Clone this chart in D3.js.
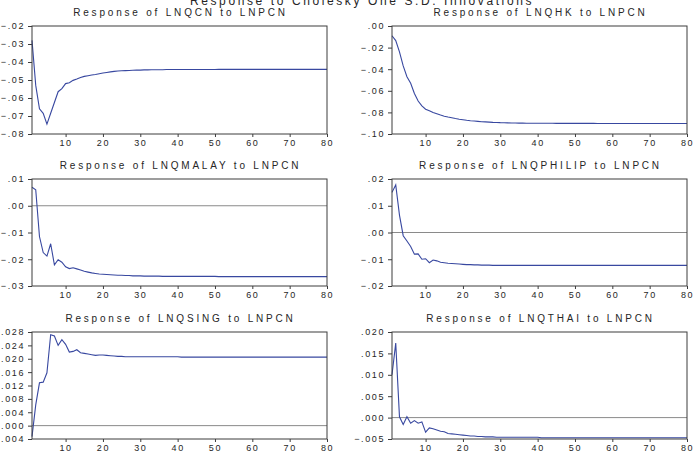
<!DOCTYPE html>
<html>
<head>
<meta charset="utf-8">
<script src="https://cdn.jsdelivr.net/npm/d3@7"></script>
<style>
  body { margin: 0; background: #fff; }
  svg { display: block; font-family: "Liberation Sans", Arial, sans-serif; }
</style>
</head>
<body>
<svg id="chart" width="696" height="461"></svg>
<script>
// impulse responses to one S.D. LNPCN shock, periods 1..80
let periods = d3.range(1, 81);
let xTicks = [10, 20, 30, 40, 50, 60, 70, 80];

let respCN = [
  -.0280, -.0530, -.0660, -.0685, -.0745, -.0685, -.0625, -.0565, -.0548, -.0520,
  -.0515, -.0502, -.0495, -.0486, -.0480, -.0476, -.0472, -.0469, -.0465, -.0461,
  -.0458, -.0455, -.0452, -.0450, -.0449, -.0448, -.0447, -.0446, -.0445, -.0445,
  -.0444, -.0444, -.0443, -.0443, -.0443, -.0443, -.0442, -.0442, -.0442, -.0442,
  -.0442, -.0442, -.0442, -.0442, -.0442, -.0442, -.0442, -.0442, -.0442, -.0442,
  -.0441, -.0441, -.0441, -.0441, -.0441, -.0441, -.0441, -.0441, -.0441, -.0441,
  -.0441, -.0441, -.0441, -.0441, -.0441, -.0441, -.0441, -.0441, -.0441, -.0441,
  -.0441, -.0441, -.0441, -.0441, -.0441, -.0441, -.0441, -.0441, -.0441, -.0441
];
let respHK = [
  -.0090, -.0135, -.0240, -.0370, -.0470, -.0530, -.0625, -.0695, -.0740, -.0770,
  -.0785, -.0800, -.0812, -.0825, -.0835, -.0843, -.0850, -.0857, -.0863, -.0868,
  -.0873, -.0877, -.0880, -.0883, -.0886, -.0888, -.0890, -.0892, -.0893, -.0895,
  -.0896, -.0897, -.0898, -.0898, -.0899, -.0899, -.0900, -.0900, -.0900, -.0901,
  -.0901, -.0901, -.0901, -.0901, -.0902, -.0902, -.0902, -.0902, -.0902, -.0902,
  -.0902, -.0902, -.0902, -.0902, -.0902, -.0903, -.0903, -.0903, -.0903, -.0903,
  -.0903, -.0903, -.0903, -.0903, -.0903, -.0903, -.0903, -.0903, -.0903, -.0903,
  -.0903, -.0903, -.0903, -.0903, -.0903, -.0903, -.0903, -.0903, -.0903, -.0903
];
let respMALAY = [
  .0069, .0060, -.0115, -.0175, -.0188, -.0142, -.0221, -.0202, -.0211, -.0228,
  -.0235, -.0232, -.0236, -.0240, -.0245, -.0248, -.0251, -.0253, -.0255, -.0256,
  -.0257, -.0258, -.0259, -.0260, -.0260, -.0261, -.0261, -.0262, -.0262, -.0262,
  -.0263, -.0263, -.0263, -.0263, -.0263, -.0264, -.0264, -.0264, -.0264, -.0264,
  -.0264, -.0264, -.0264, -.0264, -.0264, -.0264, -.0264, -.0264, -.0264, -.0264,
  -.0265, -.0265, -.0265, -.0265, -.0265, -.0265, -.0265, -.0265, -.0265, -.0265,
  -.0265, -.0265, -.0265, -.0265, -.0265, -.0265, -.0265, -.0265, -.0265, -.0265,
  -.0265, -.0265, -.0265, -.0265, -.0265, -.0265, -.0265, -.0265, -.0265, -.0265
];
let respPHILIP = [
  .0150, .0178, .0065, -.0012, -.0032, -.0052, -.0081, -.0080, -.0100, -.0098,
  -.0113, -.0103, -.0106, -.0111, -.0113, -.0115, -.0116, -.0117, -.0118, -.0119,
  -.0120, -.0120, -.0121, -.0121, -.0122, -.0122, -.0122, -.0123, -.0123, -.0123,
  -.0123, -.0123, -.0123, -.0123, -.0123, -.0123, -.0123, -.0123, -.0123, -.0123,
  -.0123, -.0123, -.0123, -.0123, -.0123, -.0123, -.0123, -.0123, -.0123, -.0123,
  -.0123, -.0123, -.0123, -.0123, -.0123, -.0123, -.0123, -.0123, -.0123, -.0123,
  -.0123, -.0123, -.0123, -.0123, -.0123, -.0123, -.0123, -.0123, -.0123, -.0123,
  -.0123, -.0123, -.0123, -.0123, -.0123, -.0123, -.0123, -.0123, -.0123, -.0123
];
let respSING = [
  -.0033, .0062, .0128, .0130, .0158, .0272, .0268, .0240, .0257, .0243,
  .0220, .0222, .0227, .0218, .0216, .0214, .0212, .0210, .0211, .0211,
  .0210, .0209, .0208, .0207, .0207, .0206, .0206, .0206, .0206, .0206,
  .0206, .0206, .0206, .0206, .0206, .0206, .0206, .0206, .0206, .0206,
  .0205, .0205, .0205, .0205, .0205, .0205, .0205, .0205, .0205, .0205,
  .0205, .0205, .0205, .0205, .0205, .0205, .0205, .0205, .0205, .0205,
  .0205, .0205, .0205, .0205, .0205, .0205, .0205, .0205, .0205, .0205,
  .0205, .0205, .0205, .0205, .0205, .0205, .0205, .0205, .0205, .0205
];
let respTHAI = [
  .0100, .0174, .0002, -.0016, .0002, -.0013, -.0007, -.0013, -.0010, -.0034,
  -.0024, -.0026, -.0029, -.0032, -.0033, -.0037, -.0038, -.0039, -.0040, -.0041,
  -.0042, -.0043, -.0043, -.0044, -.0044, -.0045, -.0045, -.0045, -.0046, -.0046,
  -.0046, -.0046, -.0046, -.0046, -.0046, -.0046, -.0046, -.0046, -.0046, -.0046,
  -.0047, -.0047, -.0047, -.0047, -.0047, -.0047, -.0047, -.0047, -.0047, -.0047,
  -.0047, -.0047, -.0047, -.0047, -.0047, -.0047, -.0047, -.0047, -.0047, -.0047,
  -.0047, -.0047, -.0047, -.0047, -.0047, -.0047, -.0047, -.0047, -.0047, -.0047,
  -.0047, -.0047, -.0047, -.0047, -.0047, -.0047, -.0047, -.0047, -.0047, -.0047
];

let ticksCN = [-.08, -.07, -.06, -.05, -.04, -.03, -.02];
let ticksHK = [-.10, -.08, -.06, -.04, -.02, .00];
let ticksMALAY = [-.03, -.02, -.01, .00, .01];
let ticksPHILIP = [-.02, -.01, .00, .01, .02];
let ticksSING = [-.004, .000, .004, .008, .012, .016, .020, .024, .028];
let ticksTHAI = [-.005, .000, .005, .010, .015, .020];

let mainTitle = 'Response to Cholesky One S.D. Innovations';

let panels = [
  { title: 'Response of LNQCN to LNPCN', values: respCN, ticks: ticksCN, digits: 2, col: 0, row: 0 },
  { title: 'Response of LNQHK to LNPCN', values: respHK, ticks: ticksHK, digits: 2, col: 1, row: 0 },
  { title: 'Response of LNQMALAY to LNPCN', values: respMALAY, ticks: ticksMALAY, digits: 2, col: 0, row: 1 },
  { title: 'Response of LNQPHILIP to LNPCN', values: respPHILIP, ticks: ticksPHILIP, digits: 2, col: 1, row: 1 },
  { title: 'Response of LNQSING to LNPCN', values: respSING, ticks: ticksSING, digits: 3, col: 0, row: 2 },
  { title: 'Response of LNQTHAI to LNPCN', values: respTHAI, ticks: ticksTHAI, digits: 3, col: 1, row: 2 }
];

// layout of the 3x2 grid
let colX = [[32, 327], [392, 687]];
let rowY = [[26, 134], [179, 286], [332, 439]];

let lineColor = '#3848a0';
let frameColor = '#3c3c3c';
let textColor = '#262626';

let svg = d3.select('#chart');

svg.append('text')
  .attr('x', 362)
  .attr('y', 5)
  .attr('text-anchor', 'middle')
  .attr('font-size', 12)
  .attr('letter-spacing', 2.6)
  .attr('fill', textColor)
  .text(mainTitle);

function tickLabel(digits) {
  let f = d3.format('.' + digits + 'f');
  return function(v) {
    return f(v).replace('0.', '.');
  };
}

function drawPanel(p) {
  let x0 = colX[p.col][0], x1 = colX[p.col][1];
  let y0 = rowY[p.row][0], y1 = rowY[p.row][1];
  let lo = d3.min(p.ticks), hi = d3.max(p.ticks);

  let x = d3.scaleLinear().domain([1, 80]).range([x0, x1]);
  let y = d3.scaleLinear().domain([lo, hi]).range([y1, y0]);

  let g = svg.append('g');

  g.append('text')
    .attr('x', (x0 + x1) / 2 + 1)
    .attr('y', y0 - 10)
    .attr('text-anchor', 'middle')
    .attr('font-size', 10)
    .attr('letter-spacing', 2.8)
    .attr('fill', textColor)
    .text(p.title);

  let yAxis = g.append('g')
    .attr('transform', 'translate(' + x0 + ',0)')
    .call(d3.axisLeft(y).tickValues(p.ticks).tickFormat(tickLabel(p.digits))
      .tickSize(4).tickPadding(3));

  let xAxis = g.append('g')
    .attr('transform', 'translate(0,' + y1 + ')')
    .call(d3.axisBottom(x).tickValues(xTicks).tickSize(3).tickPadding(3));

  [yAxis, xAxis].forEach(function(a) {
    a.select('.domain').remove();
    a.selectAll('line').attr('stroke', frameColor);
    a.selectAll('text')
      .attr('font-size', 9)
      .attr('letter-spacing', 1.6)
      .attr('fill', textColor)
      .style('font-family', '"Liberation Sans", Arial, sans-serif');
  });

  if (lo < 0 && hi > 0) {
    g.append('line')
      .attr('x1', x0)
      .attr('x2', x1)
      .attr('y1', y(0))
      .attr('y2', y(0))
      .attr('stroke', '#8a8a8a')
      .attr('stroke-width', 1);
  }

  let line = d3.line()
    .x(function(d, i) { return x(periods[i]); })
    .y(function(d) { return y(d); });

  g.append('path')
    .datum(p.values)
    .attr('fill', 'none')
    .attr('stroke', lineColor)
    .attr('stroke-width', 1.1)
    .attr('d', line);

  g.append('rect')
    .attr('x', x0)
    .attr('y', y0)
    .attr('width', x1 - x0)
    .attr('height', y1 - y0)
    .attr('fill', 'none')
    .attr('stroke', frameColor)
    .attr('stroke-width', 1);
}

panels.forEach(drawPanel);
</script>
</body>
</html>
